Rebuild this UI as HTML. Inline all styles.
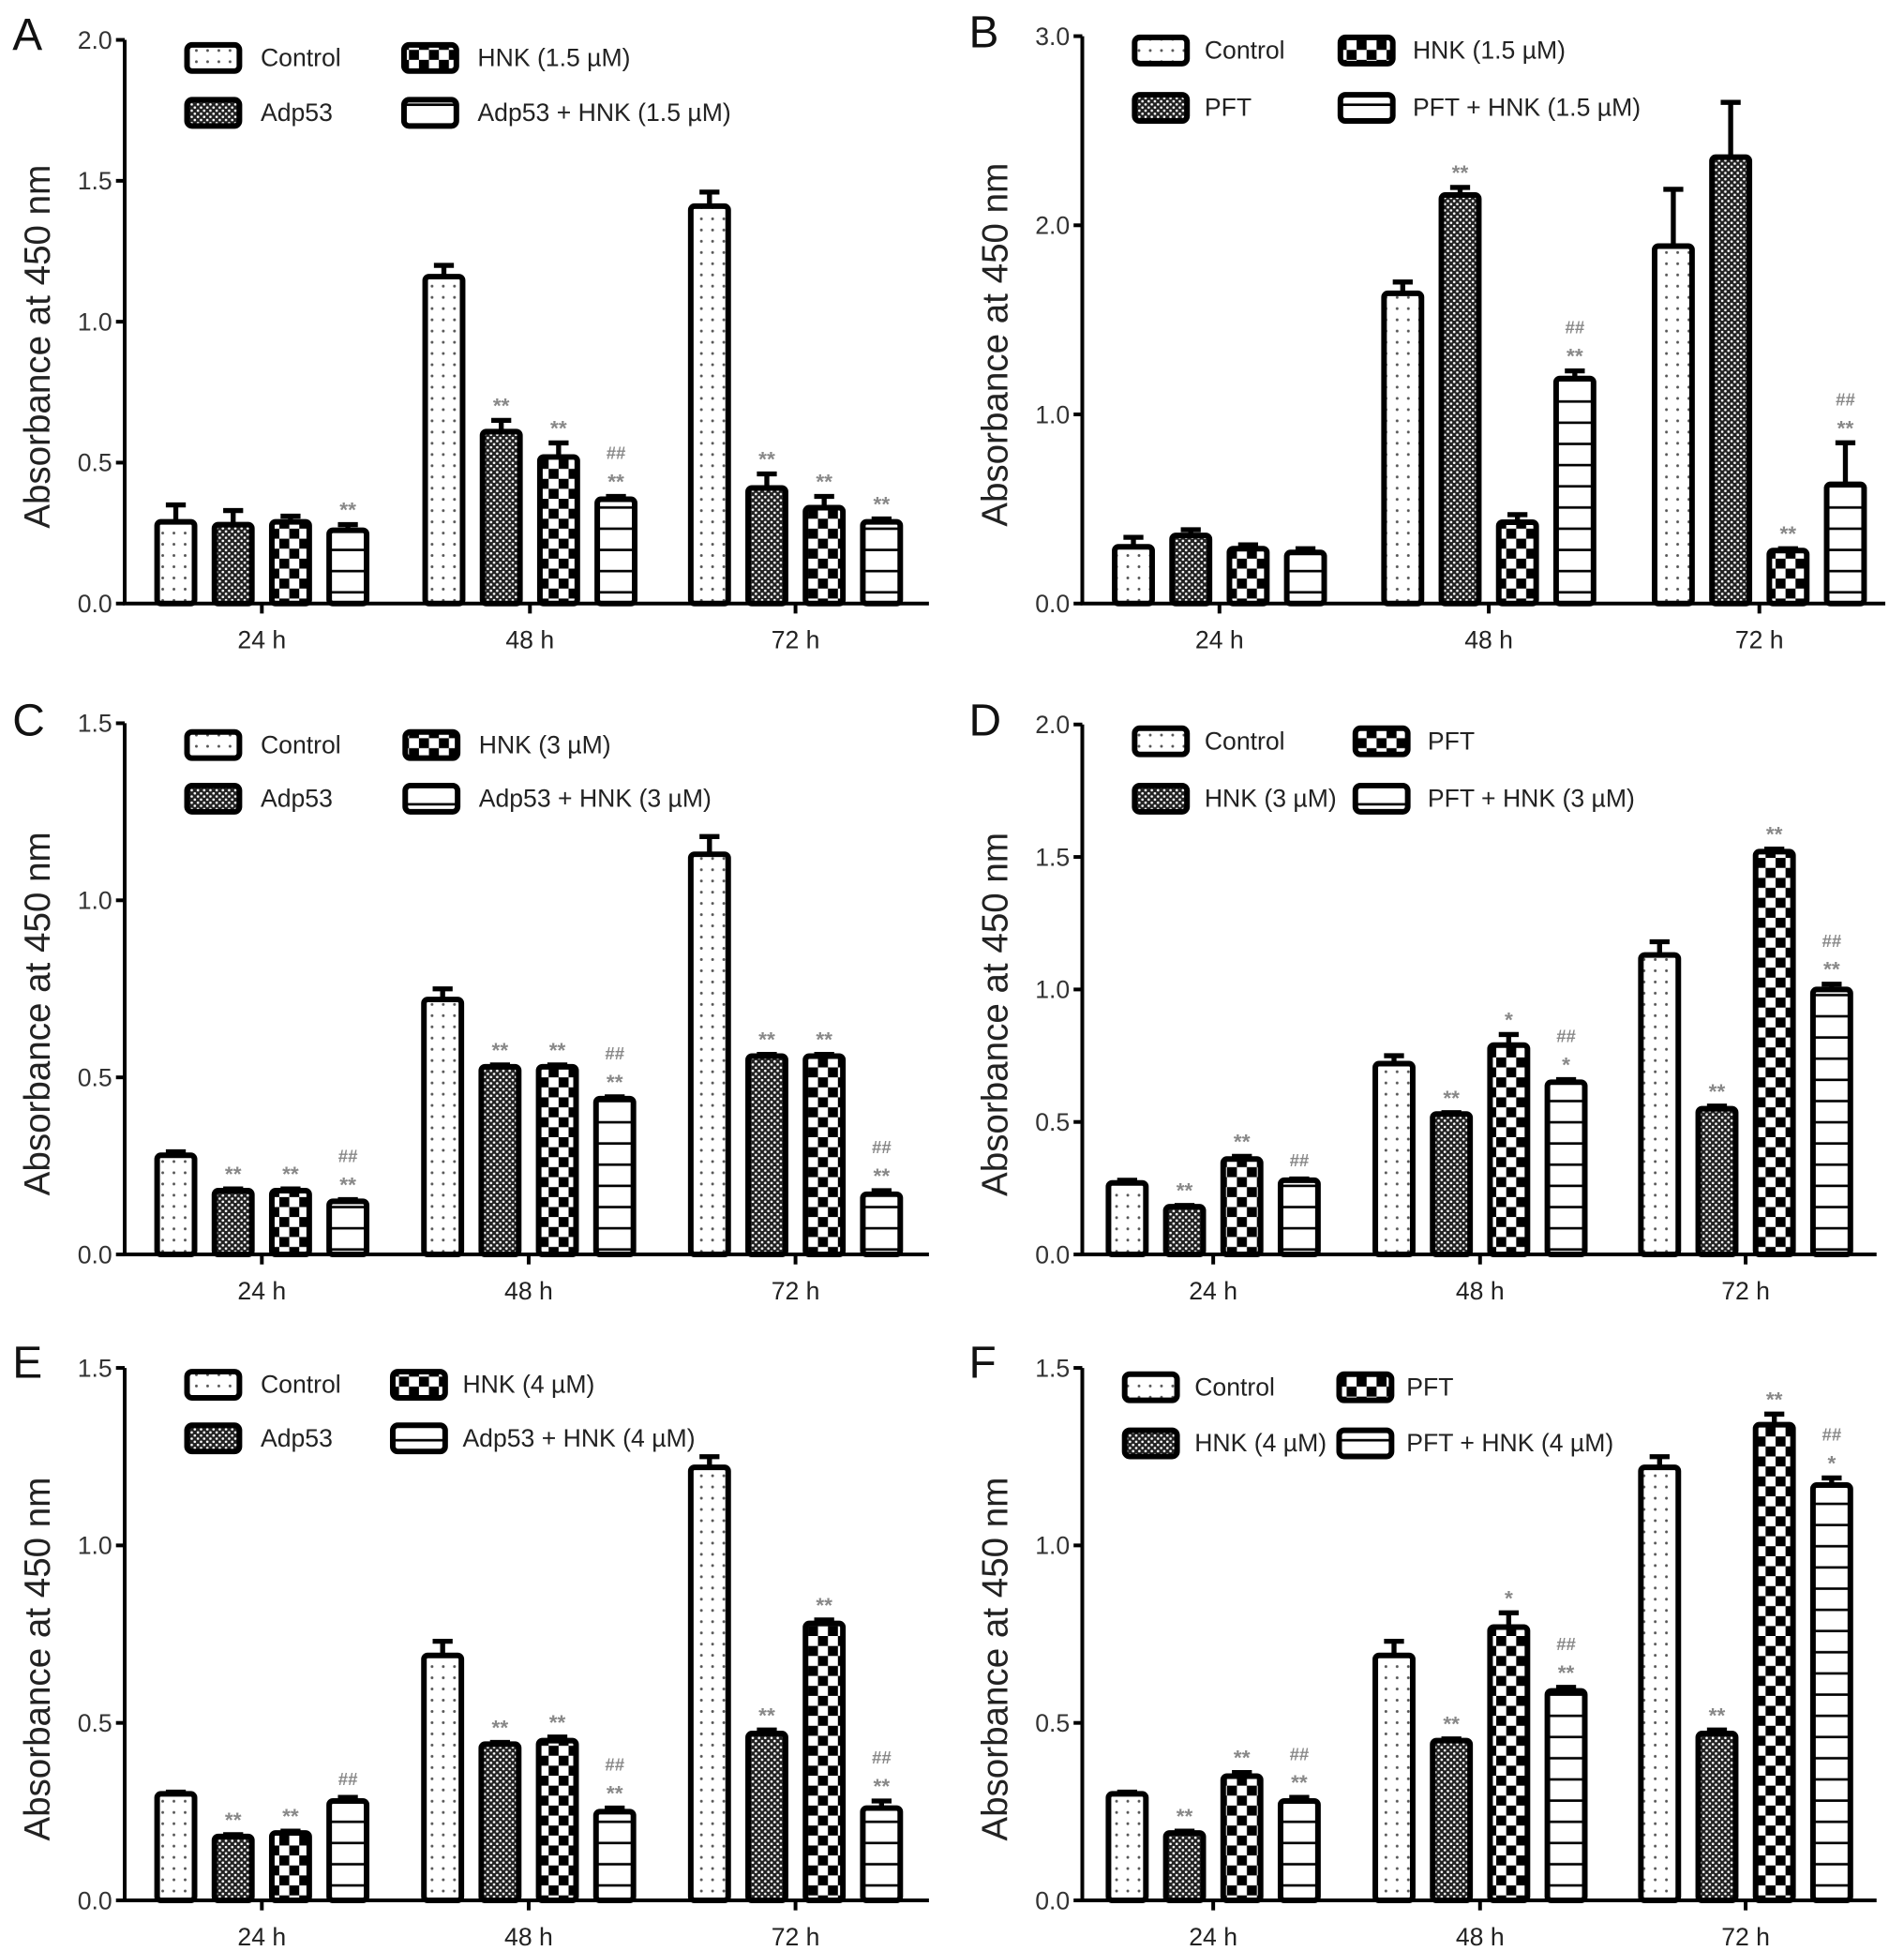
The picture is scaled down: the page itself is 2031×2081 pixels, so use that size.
<!DOCTYPE html>
<html><head><meta charset="utf-8">
<style>
html,body{margin:0;padding:0;background:#fff;}
svg{display:block;font-family:"Liberation Sans",Arial,sans-serif;}
</style></head>
<body>
<svg id="fig" width="2031" height="2081" viewBox="0 0 1527 1564.6" xmlns="http://www.w3.org/2000/svg">
<defs>
<pattern id="p-dots" patternUnits="userSpaceOnUse" width="9" height="9"><rect width="9" height="9" fill="#fff"/><circle cx="4.5" cy="4.5" r="1.1" fill="#555"/></pattern>
<pattern id="p-fine" patternUnits="userSpaceOnUse" width="5" height="5"><rect width="5" height="5" fill="#222"/><circle cx="1.25" cy="1.25" r="1" fill="#fff"/><circle cx="3.75" cy="3.75" r="1" fill="#fff"/></pattern>
<pattern id="p-check" patternUnits="userSpaceOnUse" width="16" height="16"><rect width="16" height="16" fill="#fff"/><rect width="8" height="8" fill="#000"/><rect x="8" y="8" width="8" height="8" fill="#000"/></pattern>
<pattern id="p-lines" patternUnits="userSpaceOnUse" width="8" height="17"><rect width="8" height="17" fill="#fff"/><rect y="15" width="8" height="2" fill="#000"/></pattern>
</defs>
</svg>
<script>
// Panel data
const categories = ["24 h","48 h","72 h"];
const A_names=["Control","Adp53","HNK (1.5 µM)","Adp53 + HNK (1.5 µM)"];
const A_vals=[[0.29,1.16,1.41],[0.28,0.61,0.41],[0.29,0.52,0.34],[0.26,0.37,0.29]];
const A_errs=[[0.06,0.04,0.05],[0.05,0.04,0.05],[0.02,0.05,0.04],[0.02,0.01,0.01]];
const A_marks=[["","",""],["","**","**"],["","**","**"],["**","##|**","**"]];
const B_names=["Control","PFT","HNK (1.5 µM)","PFT + HNK (1.5 µM)"];
const B_vals=[[0.30,1.64,1.89],[0.36,2.16,2.36],[0.29,0.43,0.28],[0.27,1.19,0.63]];
const B_errs=[[0.05,0.06,0.30],[0.03,0.04,0.29],[0.02,0.04,0.01],[0.02,0.04,0.22]];
const B_marks=[["","",""],["","**",""],["","","**"],["","##|**","##|**"]];
const C_names=["Control","Adp53","HNK (3 µM)","Adp53 + HNK (3 µM)"];
const C_vals=[[0.28,0.72,1.13],[0.18,0.53,0.56],[0.18,0.53,0.56],[0.15,0.44,0.17]];
const C_errs=[[0.01,0.03,0.05],[0.005,0.005,0.005],[0.005,0.005,0.005],[0.005,0.005,0.01]];
const C_marks=[["","",""],["**","**","**"],["**","**","**"],["##|**","##|**","##|**"]];
const D_names=["Control","HNK (3 µM)","PFT","PFT + HNK (3 µM)"];
const D_vals=[[0.27,0.72,1.13],[0.18,0.53,0.55],[0.36,0.79,1.52],[0.28,0.65,1.00]];
const D_errs=[[0.01,0.03,0.05],[0.005,0.005,0.01],[0.01,0.04,0.01],[0.005,0.01,0.02]];
const D_marks=[["","",""],["**","**","**"],["**","*","**"],["##","##|*","##|**"]];
const E_names=["Control","Adp53","HNK (4 µM)","Adp53 + HNK (4 µM)"];
const E_vals=[[0.30,0.69,1.22],[0.18,0.44,0.47],[0.19,0.45,0.78],[0.28,0.25,0.26]];
const E_errs=[[0.005,0.04,0.03],[0.005,0.005,0.01],[0.005,0.01,0.01],[0.01,0.01,0.02]];
const E_marks=[["","",""],["**","**","**"],["**","**","**"],["##","##|**","##|**"]];
const F_names=["Control","HNK (4 µM)","PFT","PFT + HNK (4 µM)"];
const F_vals=[[0.30,0.69,1.22],[0.19,0.45,0.47],[0.35,0.77,1.34],[0.28,0.59,1.17]];
const F_errs=[[0.005,0.04,0.03],[0.005,0.005,0.01],[0.01,0.04,0.03],[0.01,0.01,0.02]];
const F_marks=[["","",""],["**","**","**"],["**","*","**"],["##|**","##|**","##|*"]];
const A_ticks=["0.0","0.5","1.0","1.5","2.0"];
const B_ticks=["0.0","1.0","2.0","3.0"];
const C_ticks=["0.0","0.5","1.0","1.5"];

const NS="http://www.w3.org/2000/svg";
const svg=document.getElementById('fig');
function mk(tag,attrs,parent,text){const e=document.createElementNS(NS,tag);for(const k in attrs)e.setAttribute(k,attrs[k]);if(text!==undefined)e.textContent=text;(parent||svg).appendChild(e);return e;}

const fills=["url(#p-dots)","url(#p-fine)","url(#p-check)","url(#p-lines)"];

const panels=[
 {id:"a",letter:"A",lx:10,ly:40,ax:100,top:32,bot:484,right:745,max:2,ticks:A_ticks,cx:[210,425,638],names:A_names,vals:A_vals,errs:A_errs,marks:A_marks,
  leg:[[148,46,209],[148,90,209],[322,46,383],[322,90,383]]},
 {id:"b",letter:"B",lx:777,ly:38,ax:868,top:29,bot:484,right:1512,max:3,ticks:B_ticks,cx:[978,1194,1411],names:B_names,vals:B_vals,errs:B_errs,marks:B_marks,
  leg:[[908,40,966],[908,86,966],[1073,40,1133],[1073,86,1133]]},
 {id:"c",letter:"C",lx:10,ly:590,ax:100,top:580,bot:1006,right:745,max:1.5,ticks:C_ticks,cx:[210,424,638],names:C_names,vals:C_vals,errs:C_errs,marks:C_marks,
  leg:[[148,597,209],[148,640,209],[323,597,384],[323,640,384]]},
 {id:"d",letter:"D",lx:777,ly:590,ax:868,top:581,bot:1006,right:1505,max:2,ticks:A_ticks,cx:[973,1187,1400],names:D_names,vals:D_vals,errs:D_errs,marks:D_marks,
  leg:[[908,594,966],[908,640,966],[1085,594,1145],[1085,640,1145]]},
 {id:"e",letter:"E",lx:10,ly:1105,ax:100,top:1097,bot:1524,right:745,max:1.5,ticks:C_ticks,cx:[210,424,638],names:E_names,vals:E_vals,errs:E_errs,marks:E_marks,
  leg:[[148,1110,209],[148,1153,209],[313,1110,371],[313,1153,371]]},
 {id:"f",letter:"F",lx:777,ly:1105,ax:868,top:1097,bot:1524,right:1505,max:1.5,ticks:C_ticks,cx:[973,1187,1400],names:F_names,vals:F_vals,errs:F_errs,marks:F_marks,
  leg:[[900,1112,958],[900,1157,958],[1072,1112,1128],[1072,1157,1128]]}
];

panels.forEach(p=>{
  const g=mk('g',{});
  
  
  const y=v=>p.bot-(v/p.max)*(p.bot-p.top);
  const bw=34, step=46;
  const xb=(ci,si)=>p.cx[ci]+(si-1.5)*step;
  const L=mk('text',{x:p.lx,y:p.ly,'font-size':36,fill:'#111'},g,p.letter);
  
  
  const yl=mk('text',{x:0,y:0,'font-size':29,fill:'#222','text-anchor':'middle',transform:`translate(${p.ax-60},${(p.top+p.bot)/2+20}) rotate(-90)`},g,'Absorbance at 450 nm');
  
  
  p.vals.forEach((ser,si)=>{
    ser.forEach((v,ci)=>{
      const cx=xb(ci,si), yt=y(v), ye=y(v+p.errs[si][ci]);
      const eb=mk('path',{d:`M${cx} ${yt} V${ye} M${cx-8} ${ye} H${cx+8}`,stroke:'#000','stroke-width':4,fill:'none'},g);
      
      
      const r=mk('rect',{x:cx-bw/2+2,y:yt,width:bw-4,height:p.bot-yt,rx:3,fill:fills[si],stroke:'#000','stroke-width':4.5},g);
      
      
      const m=p.marks[si][ci];
      if(m){
        const lines=m.split('|');
        lines.reverse().forEach((t,k)=>{
          const isHash=t.indexOf('#')>=0;
          const tx=mk('text',{x:cx,y:ye-10-k*20+(isHash?0:4),'font-size':isHash?14:17,fill:'#888','text-anchor':'middle','font-weight':'bold'},g,t);
          
          
        });
      }
    });
  });
  const axp=mk('path',{d:`M${p.ax} ${p.top} V${p.bot} H${p.right}`,stroke:'#000','stroke-width':3,fill:'none'},g);
  
  
  p.ticks.forEach((t,i)=>{
    const v=parseFloat(t), yy=y(v);
    mk('path',{d:`M${p.ax-7} ${yy} H${p.ax}`,stroke:'#000','stroke-width':3},g);
    const tl=mk('text',{x:p.ax-10,y:yy+7,'font-size':20,fill:'#333','text-anchor':'end'},g,t);
    
    
  });
  categories.forEach((c,ci)=>{
    mk('path',{d:`M${p.cx[ci]} ${p.bot} V${p.bot+8}`,stroke:'#000','stroke-width':3},g);
    const xl=mk('text',{x:p.cx[ci],y:p.bot+36,'font-size':20,fill:'#222','text-anchor':'middle'},g,c);
    
    
  });
  p.names.forEach((n,si)=>{
    const [bx,by,tx]=p.leg[si];
    const le=mk('g',{},g);
    
    
    mk('rect',{x:bx+2,y:by-10,width:42,height:21,rx:4,fill:fills[si],stroke:'#000','stroke-width':4.5},le);
    mk('text',{x:tx,y:by+7,'font-size':20,fill:'#222'},le,n);
  });
});
</script>
</body></html>
